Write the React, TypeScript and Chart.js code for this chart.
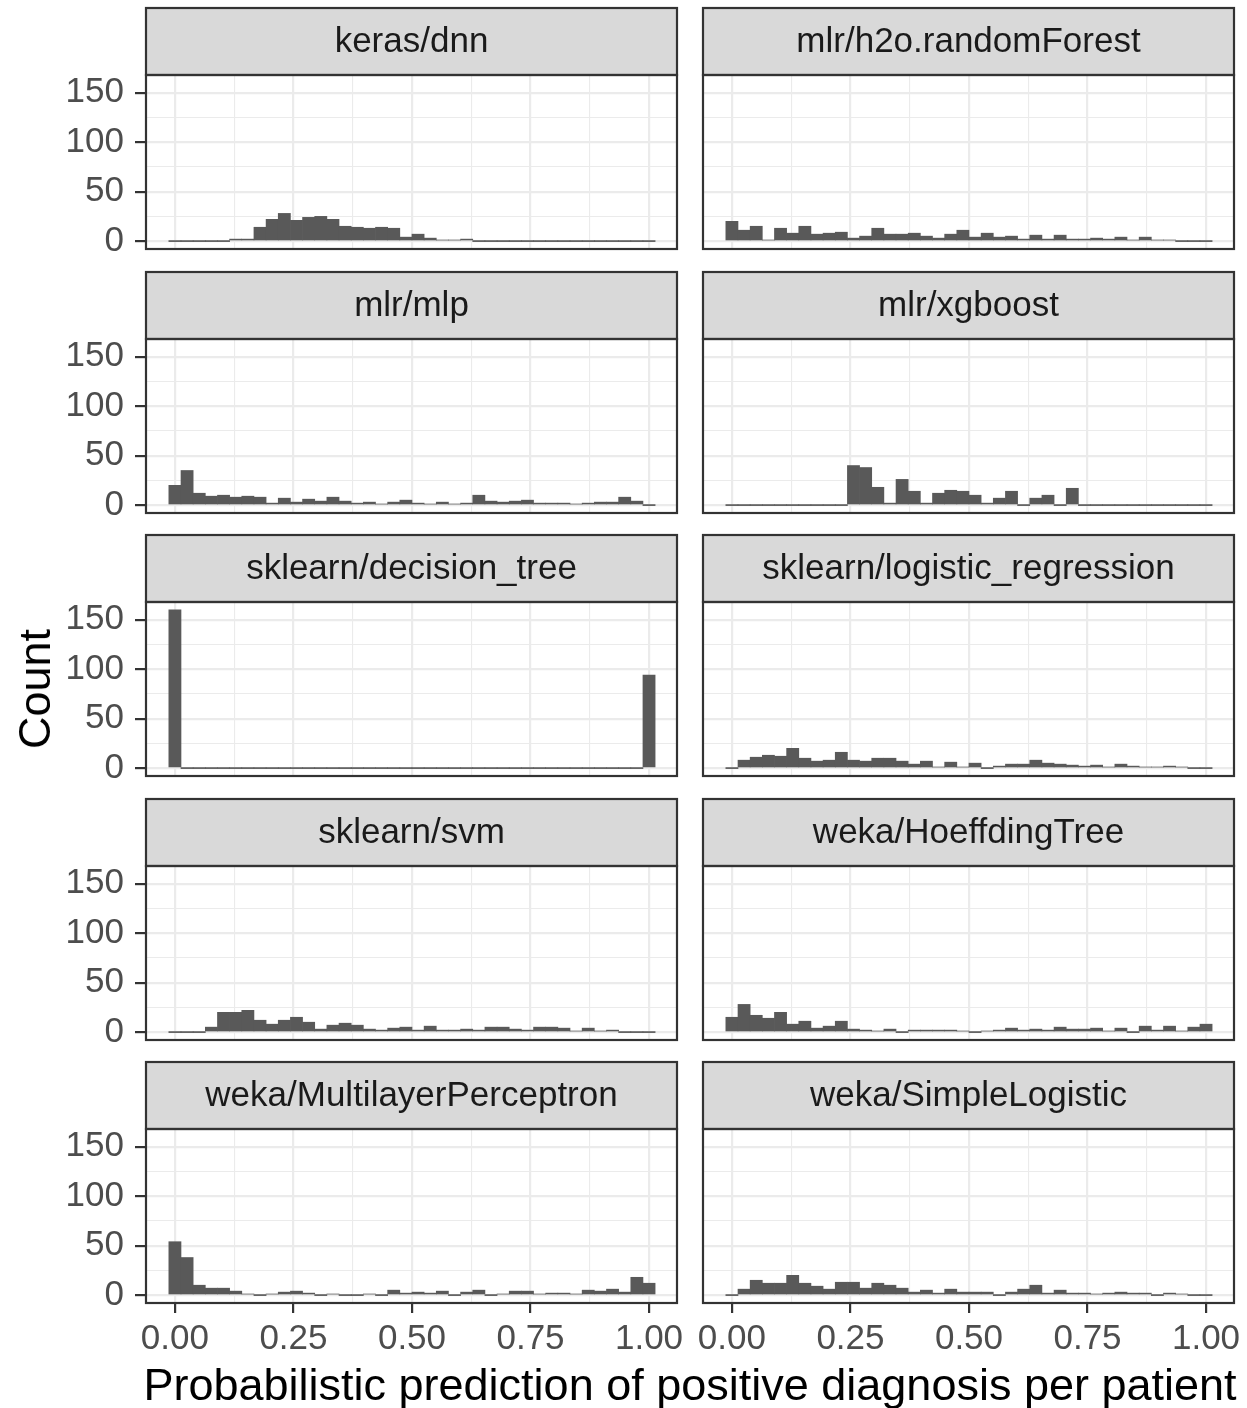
import React, { useEffect, useRef } from "react";
import { Chart, registerables } from "chart.js";

Chart.register(...registerables);

// ---------------- data ----------------
const BIN_CENTERS = [
  0, 0.02564, 0.05128, 0.07692, 0.10256, 0.12821, 0.15385, 0.17949, 0.20513, 0.23077,
  0.25641, 0.28205, 0.30769, 0.33333, 0.35897, 0.38462, 0.41026, 0.4359, 0.46154, 0.48718,
  0.51282, 0.53846, 0.5641, 0.58974, 0.61538, 0.64103, 0.66667, 0.69231, 0.71795, 0.74359,
  0.76923, 0.79487, 0.82051, 0.84615, 0.87179, 0.89744, 0.92308, 0.94872, 0.97436, 1,
];

const PANEL_TITLES = [
  "keras/dnn",
  "mlr/h2o.randomForest",
  "mlr/mlp",
  "mlr/xgboost",
  "sklearn/decision_tree",
  "sklearn/logistic_regression",
  "sklearn/svm",
  "weka/HoeffdingTree",
  "weka/MultilayerPerceptron",
  "weka/SimpleLogistic",
];

const KERAS_DNN = [0, 0, 0, 0, 0, 2, 2, 14, 22, 28, 21, 24, 25, 22, 15, 14, 13, 14, 13, 4, 7, 3, 1, 1, 2, 0, 0, 0, 0, 0, 0, 0, 0, 0, 0, 0, 0, 0, 0, 0];
const MLR_H2O_RF = [20, 11, 15, 1, 13, 8, 15, 7, 8, 9, 3, 5, 13, 7, 7, 8, 5, 3, 7, 11, 4, 8, 4, 5, 2, 6, 2, 6, 2, 2, 3, 2, 4, 1, 4, 1, 1, 0, 0, 0];
const MLR_MLP = [20, 35, 12, 9, 10, 8, 9, 8, 2, 7, 3, 6, 4, 8, 4, 2, 3, 1, 3, 5, 2, 1, 3, 1, 2, 10, 4, 3, 4, 5, 2, 2, 2, 1, 2, 3, 3, 8, 4, 0];
const MLR_XGBOOST = [0, 0, 0, 0, 0, 0, 0, 0, 0, 0, 40, 38, 18, 2, 26, 14, 2, 12, 15, 14, 10, 2, 7, 14, 0, 7, 10, 0, 17, 0, 0, 0, 0, 0, 0, 0, 0, 0, 0, 0];
const SK_DECISION_TREE = [160, 0, 0, 0, 0, 0, 0, 0, 0, 0, 0, 0, 0, 0, 0, 0, 0, 0, 0, 0, 0, 0, 0, 0, 0, 0, 0, 0, 0, 0, 0, 0, 0, 0, 0, 0, 0, 0, 0, 94];
const SK_LOGISTIC = [0, 8, 11, 13, 12, 20, 10, 7, 8, 16, 8, 7, 10, 10, 7, 4, 7, 1, 6, 1, 5, 0, 2, 4, 4, 8, 5, 4, 3, 2, 3, 1, 4, 2, 1, 1, 2, 1, 0, 0];
const SK_SVM = [0, 0, 0, 5, 20, 20, 22, 12, 8, 12, 15, 10, 3, 7, 9, 7, 3, 2, 4, 5, 2, 6, 2, 2, 3, 2, 5, 5, 3, 2, 5, 5, 4, 1, 4, 1, 2, 0, 0, 0];
const WEKA_HOEFFDING = [15, 28, 17, 14, 20, 8, 11, 4, 6, 11, 3, 2, 1, 3, 0, 2, 2, 2, 2, 1, 0, 1, 2, 4, 2, 3, 2, 5, 3, 3, 4, 1, 4, 0, 6, 2, 6, 1, 5, 8];
const WEKA_MLP = [54, 38, 10, 7, 7, 4, 1, 0, 1, 3, 4, 2, 0, 1, 0, 0, 1, 0, 5, 2, 3, 2, 4, 0, 3, 5, 0, 1, 4, 4, 1, 2, 2, 1, 5, 4, 6, 3, 18, 12];
const WEKA_SIMPLE_LOGISTIC = [0, 6, 15, 12, 12, 20, 12, 9, 6, 13, 13, 7, 12, 10, 7, 3, 5, 2, 6, 3, 3, 3, 0, 3, 6, 10, 2, 5, 2, 2, 1, 2, 3, 2, 2, 0, 2, 1, 0, 0];

const PANEL_COUNTS = [
  KERAS_DNN, MLR_H2O_RF, MLR_MLP, MLR_XGBOOST, SK_DECISION_TREE,
  SK_LOGISTIC, SK_SVM, WEKA_HOEFFDING, WEKA_MLP, WEKA_SIMPLE_LOGISTIC,
];

const X_TICKS = [0, 0.125, 0.25, 0.375, 0.5, 0.625, 0.75, 0.875, 1];
const X_TICK_LABELS = ["0.00", "0.25", "0.50", "0.75", "1.00"];
const Y_TICKS = [0, 25, 50, 75, 100, 125, 150];
const Y_TICK_LABELS = ["0", "50", "100", "150"];

const X_TITLE = "Probabilistic prediction of positive diagnosis per patient";
const Y_TITLE = "Count";

// ---------------- layout ----------------
const FONT = "'Liberation Sans', Arial, Helvetica, sans-serif";
const X_MIN = -0.061;
const X_MAX = 1.059;
const Y_MIN = -8;
const Y_MAX = 168;
const ROW_TOPS = [8, 272, 535, 799, 1062];
const STRIP_H = 67;
const PLOT_H = 174;
const PAD = 3;
const PAD_BOTTOM = 28;
const XAXIS_H = 62;
const CANVAS_LEFT = [0, 690];
const CANVAS_W = [690, 557];
const PLOT_LEFT_IN_CANVAS = [146, 13];
const PAD_RIGHT = 13;

const isMajorX = (v: number) => Math.abs(v * 4 - Math.round(v * 4)) < 1e-9;
const isMajorY = (v: number) => Math.abs(v % 50) < 1e-9;

const stripPlugin = {
  id: "facetStrip",
  beforeDraw(chart: any) {
    const { ctx, chartArea } = chart;
    const tb = chart.titleBlock;
    if (!tb) return;
    ctx.save();
    ctx.fillStyle = "#D9D9D9";
    ctx.fillRect(chartArea.left, tb.top, chartArea.right - chartArea.left, chartArea.top - tb.top);
    ctx.restore();
  },
  afterDraw(chart: any) {
    const { ctx, chartArea } = chart;
    const tb = chart.titleBlock;
    ctx.save();
    ctx.strokeStyle = "#333333";
    ctx.lineWidth = 2.2;
    if (tb) ctx.strokeRect(chartArea.left, tb.top, chartArea.right - chartArea.left, chartArea.top - tb.top);
    ctx.strokeRect(chartArea.left, chartArea.top, chartArea.right - chartArea.left, chartArea.bottom - chartArea.top);
    ctx.restore();
  },
};

function Panel({ title, counts, col, row }: { title: string; counts: number[]; col: number; row: number }) {
  const ref = useRef<HTMLCanvasElement | null>(null);
  const isBottom = row === ROW_TOPS.length - 1;
  const isLeft = col === 0;
  const bottomSpace = isBottom ? XAXIS_H + PAD : PAD_BOTTOM;
  const height = PAD + STRIP_H + PLOT_H + bottomSpace;
  const width = CANVAS_W[col];

  useEffect(() => {
    if (!ref.current) return;
    const chart = new Chart(ref.current, {
      type: "bar",
      data: {
        datasets: [
          {
            data: counts.map((c, i) => ({ x: BIN_CENTERS[i], y: c })),
            backgroundColor: "#595959",
            borderWidth: 0,
            minBarLength: 1,
            barPercentage: 1,
            categoryPercentage: 1,
          },
        ],
      },
      options: {
        responsive: false,
        animation: false,
        devicePixelRatio: 1,
        layout: {
          padding: {
            left: isLeft ? 0 : PLOT_LEFT_IN_CANVAS[1],
            right: PAD_RIGHT,
            top: PAD,
            bottom: isBottom ? PAD : PAD_BOTTOM,
          },
        },
        plugins: {
          legend: { display: false },
          tooltip: { enabled: false },
          title: {
            display: true,
            text: title,
            fullSize: false,
            color: "#1A1A1A",
            font: { family: FONT, size: 35, weight: "normal", lineHeight: 1.2 },
            padding: { top: 13, bottom: 12 },
          },
        },
        scales: {
          x: {
            type: "linear",
            min: X_MIN,
            max: X_MAX,
            offset: false,
            border: { display: false },
            grid: {
              offset: false,
              color: "#EBEBEB",
              lineWidth: (ctx: any) => (ctx.tick && isMajorX(ctx.tick.value) ? 2.2 : 1.1),
              drawTicks: isBottom,
              tickLength: 10,
              tickWidth: 2.2,
              tickColor: (ctx: any) => (ctx.tick && isMajorX(ctx.tick.value) ? "#333333" : "rgba(0,0,0,0)"),
            },
            ticks: {
              display: isBottom,
              autoSkip: false,
              maxRotation: 0,
              minRotation: 0,
              padding: 5,
              color: "#4D4D4D",
              font: { family: FONT, size: 35 },
              callback: (v: any) => (isMajorX(Number(v)) ? X_TICK_LABELS[Math.round(Number(v) * 4)] : ""),
            },
            afterBuildTicks: (s: any) => {
              s.ticks = X_TICKS.map((v) => ({ value: v }));
            },
            afterFit: (s: any) => {
              s.height = isBottom ? XAXIS_H : 0;
            },
          },
          y: {
            type: "linear",
            min: Y_MIN,
            max: Y_MAX,
            offset: false,
            border: { display: false },
            grid: {
              offset: false,
              color: "#EBEBEB",
              lineWidth: (ctx: any) => (ctx.tick && isMajorY(ctx.tick.value) ? 2.2 : 1.1),
              drawTicks: isLeft,
              tickLength: 11,
              tickWidth: 2.2,
              tickColor: (ctx: any) => (ctx.tick && isMajorY(ctx.tick.value) ? "#333333" : "rgba(0,0,0,0)"),
            },
            ticks: {
              display: isLeft,
              autoSkip: false,
              padding: 11,
              color: "#4D4D4D",
              font: { family: FONT, size: 35 },
              callback: (v: any) => (isMajorY(Number(v)) ? Y_TICK_LABELS[Math.round(Number(v) / 50)] : ""),
            },
            afterBuildTicks: (s: any) => {
              s.ticks = Y_TICKS.map((v) => ({ value: v }));
            },
            afterFit: (s: any) => {
              s.width = isLeft ? PLOT_LEFT_IN_CANVAS[0] : 0;
              s.paddingTop = 0;
              s.paddingBottom = 0;
            },
          },
        },
      } as any,
      plugins: [stripPlugin],
    });
    return () => chart.destroy();
  }, [title, counts, col, row]);

  return (
    <canvas
      ref={ref}
      width={width}
      height={height}
      style={{
        position: "absolute",
        left: CANVAS_LEFT[col],
        top: ROW_TOPS[row] - PAD,
        width,
        height,
      }}
    />
  );
}

export default function App() {
  return (
    <div
      style={{
        position: "absolute",
        left: 0,
        top: 0,
        width: 1247,
        height: 1408,
        background: "#FFFFFF",
        overflow: "hidden",
        fontFamily: FONT,
      }}
    >
      {PANEL_TITLES.map((t, i) => (
        <Panel key={t} title={t} counts={PANEL_COUNTS[i]} col={i % 2} row={Math.floor(i / 2)} />
      ))}
      <div
        style={{
          position: "absolute",
          left: 35,
          top: 689,
          transform: "translate(-50%, -50%) rotate(-90deg)",
          fontSize: 45,
          lineHeight: "50px",
          color: "#000000",
          whiteSpace: "nowrap",
        }}
      >
        {Y_TITLE}
      </div>
      <div
        style={{
          position: "absolute",
          left: 100,
          width: 1180,
          top: 1360,
          textAlign: "center",
          fontSize: 45,
          lineHeight: "50px",
          color: "#000000",
          whiteSpace: "nowrap",
        }}
      >
        {X_TITLE}
      </div>
    </div>
  );
}
